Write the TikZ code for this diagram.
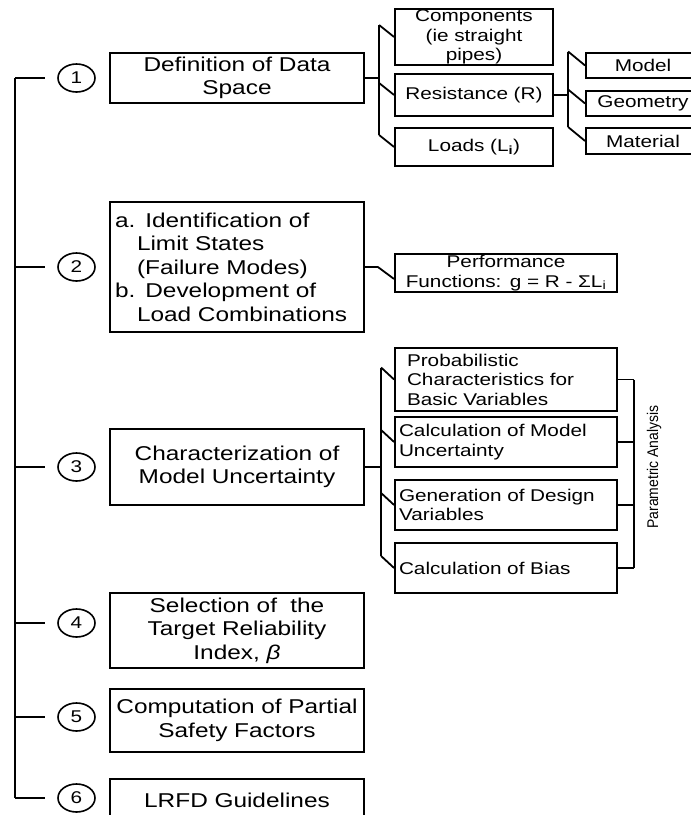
\documentclass[tikz,border=0pt]{standalone}
\usepackage{fontspec}
\setmainfont{Liberation Sans}[FakeStretch=1.22]
\newfontfamily\narrowfont{Liberation Sans}[FakeStretch=0.9]
\usetikzlibrary{shapes.geometric,calc}
\newcommand\mainfs{\fontsize{20}{23.5}\selectfont}
\newcommand\subfs{\fontsize{17}{19.5}\selectfont}
\newcommand\numfs{\fontsize{17}{18}\selectfont}
\tikzset{
  link/.style={line width=1.8pt, line join=miter},
  mainbox/.style={draw, line width=1.8pt, inner xsep=3pt, inner ysep=0pt,
    minimum width=254pt, text width=248pt, align=center, font=\mainfs},
  subbox/.style={draw, line width=1.8pt, inner xsep=3pt, inner ysep=0pt,
    minimum width=158pt, text width=152pt, align=center, font=\subfs},
  rbox/.style={draw, line width=1.8pt, inner xsep=3pt, inner ysep=0pt,
    minimum width=114pt, text width=108pt, align=center, font=\subfs},
  wbox/.style={draw, line width=1.8pt, inner xsep=4pt, inner ysep=0pt,
    minimum width=222pt, text width=214pt, align=left, font=\subfs},
  num/.style={draw, ellipse, line width=1.6pt, inner sep=0pt,
    minimum width=37pt, minimum height=28pt, font=\numfs}
}
\begin{document}
\begin{tikzpicture}[x=1pt,y=-1pt]
\useasboundingbox (0,0) rectangle (691,815);
\fill[white] (0,0) rectangle (691,815);
\clip (0,0) rectangle (691,815);

% main step boxes
\node[mainbox, minimum height=50pt] (b1) at (237,78) {Definition of Data\\Space};
\node[mainbox, minimum height=130pt, align=left, inner xsep=5pt, text width=244pt] (b2) at (237,267)
  {a. Identification of\\\hspace*{22pt}Limit States\\\hspace*{22pt}(Failure Modes)\\b. Development of\\\hspace*{22pt}Load Combinations};
\node[mainbox, minimum height=76pt] (b3) at (237,467) {Characterization of\\Model Uncertainty};
\node[mainbox, minimum height=75pt] (b4) at (237,630.5) {Selection of\ \ the\\Target Reliability\\Index, \textit{β}};
\node[mainbox, minimum height=63pt] (b5) at (237,720.5) {Computation of Partial\\Safety Factors};
\node[mainbox, minimum height=42pt] (b6) at (237,800) {LRFD Guidelines};

% numbers
\node[num] (c1) at (76.5,78) {1};
\node[num] (c2) at (76.5,267) {2};
\node[num] (c3) at (76.5,467) {3};
\node[num] (c4) at (76.5,623) {4};
\node[num] (c5) at (76.5,717) {5};
\node[num] (c6) at (76.5,798) {6};

% spine
\coordinate (s1) at (15,78);
\coordinate (s2) at (15,267);
\coordinate (s3) at (15,467);
\coordinate (s4) at (15,623);
\coordinate (s5) at (15,717);
\coordinate (s6) at (15,798);
\draw[link] (s1) -- (s6);
\foreach \i in {1,...,6}{
  \draw[link] (s\i) -- ($(c\i.west)+(-12,0)$);
}

% step 1 sub boxes
\node[subbox, minimum height=56pt] (comp) at (474,37) {Components\\(ie straight\\pipes)};
\node[subbox, minimum height=42pt] (res) at (474,95) {Resistance (R)};
\node[subbox, minimum height=38pt] (loads) at (474,147) {Loads (L\textsubscript{\textbf{i}})};
\node[rbox, minimum height=25pt] (model) at (643,65.5) {Model};
\node[rbox, minimum height=25pt] (geom) at (643,103.5) {Geometry};
\node[rbox, minimum height=26pt] (mat) at (643,141) {Material};

\coordinate (j1) at (380,78);
\draw[link] (b1.east) -- (j1);
\draw[link] ($(comp.west)+(-15,-12)$) -- ($(loads.west)+(-15,-12)$);
\foreach \n in {comp,res,loads}{
  \draw[link] ($(\n.west)+(-15,-12)$) -- (\n.west);
}
\coordinate (j2) at (569,95);
\draw[link] (res.east) -- (j2);
\draw[link] ($(model.west)+(-17,-14)$) -- ($(mat.west)+(-17,-14)$);
\foreach \n in {model,geom,mat}{
  \draw[link] ($(\n.west)+(-17,-14)$) -- (\n.west);
}

% step 2
\node[draw, line width=1.8pt, inner xsep=3pt, inner ysep=0pt, minimum width=222pt,
  text width=216pt, align=center, font=\subfs, minimum height=38pt] (perf) at (506,273)
  {Performance\\Functions: g = R - ΣL\textsubscript{i}};
\draw[link] (b2.east) -- ++(13,0) -- ($(perf.west)+(0,6)$);

% step 3
\node[wbox, minimum height=63pt, inner xsep=12pt, text width=198pt] (prob) at (506,379.5)
  {Probabilistic\\Characteristics for\\Basic Variables};
\node[wbox, minimum height=50pt] (cmu) at (506,442) {Calculation of Model\\Uncertainty};
\node[wbox, minimum height=50pt] (gen) at (506,505) {Generation of Design\\Variables};
\node[wbox, minimum height=50pt] (bias) at (506,568) {Calculation of Bias};

\coordinate (j3) at (382,467);
\draw[link] (b3.east) -- (j3);
\draw[link] ($(prob.west)+(-13,-12)$) -- ($(bias.west)+(-13,-12)$);
\foreach \n in {prob,cmu,gen,bias}{
  \draw[link] ($(\n.west)+(-13,-12)$) -- (\n.west);
}
\draw[link] ($(prob.east)+(16,0)$) -- ($(bias.east)+(16,0)$);
\foreach \n in {prob,cmu,gen,bias}{
  \draw[link] (\n.east) -- ++(16,0);
}
\node[rotate=90, inner sep=0pt, font=\narrowfont\fontsize{15.5}{17}\selectfont] (pa) at (654,467) {Parametric Analysis};
\end{tikzpicture}
\end{document}
